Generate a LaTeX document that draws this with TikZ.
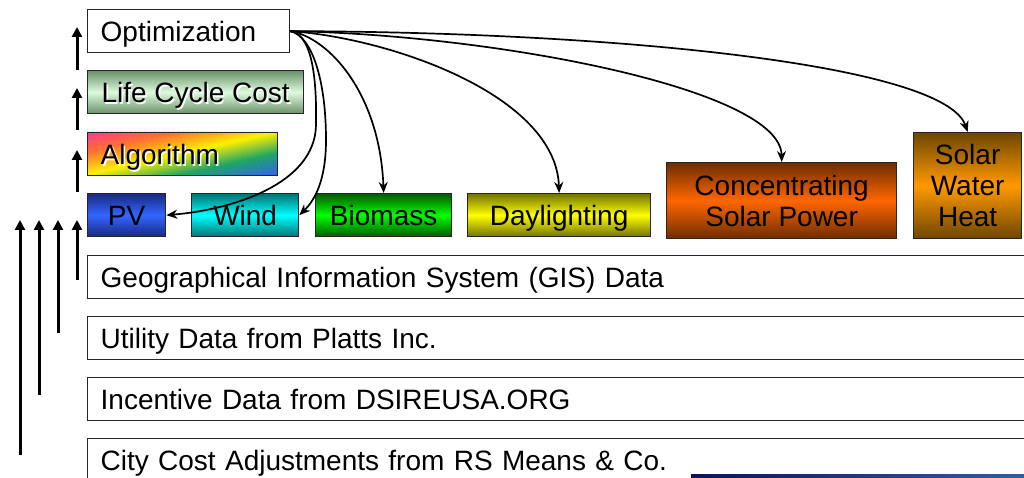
\documentclass[tikz,border=0pt]{standalone}
\usepackage{fontspec}
\setmainfont{Liberation Sans}
\usetikzlibrary{arrows.meta}
\definecolor{rbA}{RGB}{255,50,150}
\definecolor{rbB}{RGB}{255,115,45}
\definecolor{rbC}{RGB}{255,240,0}
\definecolor{rbD}{RGB}{30,165,100}
\definecolor{rbE}{RGB}{50,100,240}
\definecolor{lccE}{RGB}{105,145,105}
\definecolor{lccM}{RGB}{222,250,222}
\definecolor{pvE}{RGB}{25,40,130}
\definecolor{pvM}{RGB}{51,102,255}
\definecolor{wiE}{RGB}{0,115,115}
\definecolor{wiM}{RGB}{0,255,255}
\definecolor{biE}{RGB}{0,90,0}
\definecolor{biM}{RGB}{0,255,0}
\definecolor{daE}{RGB}{115,115,0}
\definecolor{daM}{RGB}{255,255,0}
\definecolor{csE}{RGB}{110,45,0}
\definecolor{csM}{RGB}{255,102,0}
\definecolor{swE}{RGB}{110,70,0}
\definecolor{swM}{RGB}{255,153,0}
\definecolor{barL}{RGB}{8,22,90}
\definecolor{barR}{RGB}{50,95,160}
\newcommand\wshadow[1]{\makebox[0pt][l]{\hspace{1.6pt}\raisebox{-1.6pt}{\color{white}#1}}#1}
\begin{document}
\begin{tikzpicture}[x=1pt,y=-1pt,
  mbox/.style={draw=black!85, line width=1.3pt, minimum height=43pt, inner sep=0pt,
    anchor=north west, align=center, font=\fontsize{28}{31}\selectfont},
  box/.style={mbox, text height=23pt, text depth=2pt},
  lbox/.style={box, inner xsep=13pt, text width=#1, align=left},
  grad/.style 2 args={top color=#1, bottom color=#1, middle color=#2},
  uparrow/.style={line width=3pt, -{Triangle[length=10pt,width=10pt]}},
  carrow/.style={line width=1.7pt, -{Stealth[length=11pt,width=9pt]}}
]
\useasboundingbox (0,0) rectangle (1024,478);
\clip (0,0) rectangle (1024,478);
% rainbow fill of the Algorithm box (diagonal bands)
\begin{scope}
  \clip (87,132) rectangle (277,175);
  \foreach \k in {0,...,79}{
    \pgfmathsetmacro\t{(\k+0.5)/80}
    \pgfmathtruncatemacro\sg{min(floor(\t*4),3)}
    \pgfmathtruncatemacro\p{100-100*(\t*4-\sg)}
    \ifcase\sg \colorlet{cc}{rbA!\p!rbB}\or \colorlet{cc}{rbB!\p!rbC}\or
      \colorlet{cc}{rbC!\p!rbD}\or \colorlet{cc}{rbD!\p!rbE}\fi
    \pgfmathsetmacro\sa{\k/40}
    \pgfmathsetmacro\sb{(\k+1)/40+0.01}
    \fill[cc] (87+190*\sa,132) -- (87+190*\sb,132) -- (87+190*\sb-190,175)
      -- (87+190*\sa-190,175) -- cycle;
  }
\end{scope}
% top stack
\node[lbox=176pt, fill=white] (opt) at (87,9) {Optimization};
\node[box, minimum width=216pt, grad={lccE}{lccM}] (lcc) at (87,70) {\wshadow{Life Cycle Cost}};
\node[lbox=164pt] (alg) at (87,132) {\wshadow{Algorithm}};
% technologies
\node[box, minimum width=78pt, grad={pvE}{pvM}] (pv) at (87,193) {PV};
\node[box, minimum width=107pt, grad={wiE}{wiM}] (wind) at (191,193) {Wind};
\node[box, minimum width=136pt, grad={biE}{biM}] (bio) at (315,193) {Biomass};
\node[box, minimum width=183pt, grad={daE}{daM}] (day) at (467,193) {Daylighting};
\node[mbox, minimum width=230pt, minimum height=76pt, grad={csE}{csM}] (csp) at (666,162) {Concentrating\\Solar Power};
\node[mbox, minimum width=108pt, minimum height=106pt, grad={swE}{swM}] (swh) at (913,132) {Solar\\Water\\Heat};
% data layers
\node[lbox=924pt, fill=white] (gis) at (87,255) {Geographical Information System (GIS) Data};
\node[lbox=924pt, fill=white] (util) at (87,316) {Utility Data from Platts Inc.};
\node[lbox=924pt, fill=white] (inc) at (87,377) {Incentive Data from DSIREUSA.ORG};
\node[lbox=924pt, fill=white] (city) at (87,438) {City Cost Adjustments from RS Means \& Co.};
% bottom bar
\shade[left color=barL, right color=barR] (691,474) rectangle (1030,480);
% left arrows
\coordinate (s1) at (77,70);  \coordinate (t1) at (77,27);
\coordinate (s2) at (77,130); \coordinate (t2) at (77,88);
\coordinate (s3) at (77,192); \coordinate (t3) at (77,150);
\coordinate (s4) at (77,280); \coordinate (t4) at (77,220);
\coordinate (s5) at (58,333); \coordinate (t5) at (58,220);
\coordinate (s6) at (39,395); \coordinate (t6) at (39,220);
\coordinate (s7) at (20,455); \coordinate (t7) at (20,220);
\foreach \i in {1,...,7} \draw[uparrow] (s\i) -- (t\i);
% curved arrows
\draw[carrow] (opt.east) .. controls (310,34) and (317,70) .. (316,125)
   .. controls (315,185) and (230,210) .. (pv.east);
\draw[carrow] (opt.east) .. controls (312,36) and (326,80) .. (326,140)
   .. controls (326,180) and (315,200) .. (wind.east);
\draw[carrow] (opt.east) .. controls (330,38) and (380,95) .. (bio.north);
\draw[carrow] (opt.east) .. controls (390,38) and (556,95) .. (day.north);
\draw[carrow] (opt.east) .. controls (500,35) and (781,90) .. (csp.north);
\draw[carrow] (opt.east) .. controls (620,32) and (945,65) .. (swh.north);
\end{tikzpicture}
\end{document}
